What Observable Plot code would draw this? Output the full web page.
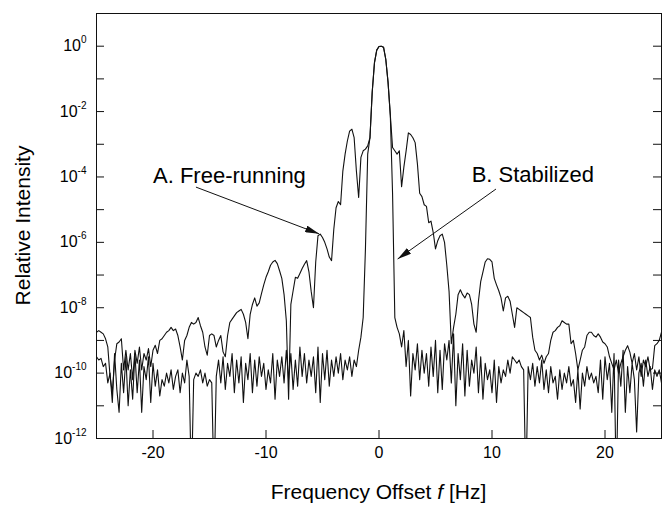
<!DOCTYPE html>
<html><head><meta charset="utf-8">
<script src="https://cdn.jsdelivr.net/npm/d3@7"></script>
<script src="https://cdn.jsdelivr.net/npm/@observablehq/plot@0.6"></script>
<style>html,body{margin:0;padding:0;background:#fff}</style>
</head><body><div id="chart"></div>
<script>
// Frequency sampling grid: -25 Hz .. +25 Hz every 0.2 Hz (251 samples)
const freqStart = -25, freqStep = 0.2, nSamples = 251;

// A. Free-running: log10(relative intensity), one row per Hz (5 samples)
const logA = [
/* -25 */ -8.75,-8.7,-8.75,-8.8,-8.95,
/* -24 */ -9.2,-10.1,-10.6,-9.6,-9.1,
/* -23 */ -9.05,-8.95,-9.9,-9.3,-9.9,
/* -22 */ -9.4,-10.2,-9.3,-9.7,-9.2,
/* -21 */ -9.9,-9.4,-9.6,-9.25,-9.8,
/* -20 */ -9.3,-9.15,-9.4,-9.0,-8.95,
/* -19 */ -8.85,-8.75,-8.7,-8.6,-8.7,
/* -18 */ -8.65,-8.85,-9.2,-9.6,-9.0,
/* -17 */ -8.85,-8.6,-8.45,-8.5,-8.45,
/* -16 */ -8.3,-8.55,-8.75,-9.2,-9.45,
/* -15 */ -8.85,-8.8,-8.85,-9.2,-9.0,
/* -14 */ -8.85,-9.35,-9.5,-8.85,-8.45,
/* -13 */ -8.35,-8.25,-8.15,-8.1,-8.05,
/* -12 */ -8.2,-8.45,-8.95,-8.2,-7.9,
/* -11 */ -7.7,-7.95,-7.85,-7.57,-7.3,
/* -10 */ -7.07,-6.9,-6.7,-6.6,-6.55,
/* -9 */ -6.65,-6.87,-7.1,-7.6,-8.4,
/* -8 */ -10.8,-7.9,-7.48,-7.07,-7.1,
/* -7 */ -6.95,-6.8,-6.67,-6.56,-6.9,
/* -6 */ -7.5,-8.0,-6.6,-5.8,-5.75,
/* -5 */ -5.85,-6.0,-6.2,-6.45,-6.56,
/* -4 */ -5.6,-4.94,-4.75,-4.85,-3.82,
/* -3 */ -3.3,-2.9,-2.6,-2.54,-2.8,
/* -2 */ -3.82,-4.63,-3.4,-3.2,-3.15,
/* -1 */ -3.05,-2.8,-1.4,-0.5,-0.12,
/* 0 */ -0.01,0,-0.03,-0.4,-1.1,
/* 1 */ -2.1,-3.1,-3.2,-3.3,-3.2,
/* 2 */ -4.3,-3.7,-3.2,-2.65,-2.7,
/* 3 */ -2.8,-2.95,-3.6,-4.5,-4.6,
/* 4 */ -4.85,-4.9,-5.4,-5.35,-5.7,
/* 5 */ -6.2,-5.95,-5.8,-5.75,-6.0,
/* 6 */ -6.7,-7.5,-9.1,-8.6,-8.2,
/* 7 */ -7.6,-7.45,-7.6,-7.7,-7.55,
/* 8 */ -7.6,-7.9,-8.5,-8.75,-7.8,
/* 9 */ -7.2,-6.9,-6.6,-6.5,-6.52,
/* 10 */ -6.6,-7.1,-7.3,-7.48,-7.7,
/* 11 */ -8.1,-7.7,-7.65,-7.8,-8.2,
/* 12 */ -8.6,-8.0,-8.05,-8.1,-8.15,
/* 13 */ -8.2,-8.25,-8.3,-8.9,-9.3,
/* 14 */ -9.4,-9.6,-9.45,-9.7,-9.5,
/* 15 */ -9.4,-9.0,-8.75,-8.7,-8.6,
/* 16 */ -8.55,-8.4,-8.45,-8.5,-8.5,
/* 17 */ -9.1,-9.0,-9.4,-9.9,-9.6,
/* 18 */ -9.3,-9.2,-8.85,-8.75,-8.75,
/* 19 */ -8.85,-8.9,-8.8,-8.9,-9.05,
/* 20 */ -9.1,-9.2,-9.5,-9.7,-9.9,
/* 21 */ -9.6,-10.0,-9.7,-9.5,-9.3,
/* 22 */ -9.16,-9.36,-9.7,-9.4,-9.9,
/* 23 */ -9.5,-10.1,-9.6,-9.8,-9.5,
/* 24 */ -9.9,-9.86,-9.16,-9.1,-9.0,
/* 25 */ -8.75
];

// B. Stabilized: log10(relative intensity)
const logB = [
/* -25 */ -9.5,-9.6,-9.55,-9.8,-9.7,
/* -24 */ -10.3,-10.0,-10.9,-9.4,-10.5,
/* -23 */ -11.2,-9.7,-10.6,-9.5,-11.0,
/* -22 */ -9.9,-10.8,-9.4,-10.6,-9.6,
/* -21 */ -11.2,-9.8,-10.2,-9.5,-10.9,
/* -20 */ -9.7,-10.4,-9.9,-10.7,-10.2,
/* -19 */ -10.4,-10.0,-10.3,-9.9,-10.5,
/* -18 */ -10.1,-9.9,-10.6,-10.0,-10.3,
/* -17 */ -9.6,-10.1,-13.5,-10.2,-10.0,
/* -16 */ -10.1,-9.9,-10.3,-10.0,-10.4,
/* -15 */ -10.2,-10.3,-13.5,-10.1,-9.6,
/* -14 */ -10.3,-9.5,-10.5,-9.7,-10.1,
/* -13 */ -9.4,-10.6,-9.6,-10.3,-9.5,
/* -12 */ -10.9,-9.7,-10.2,-9.4,-10.6,
/* -11 */ -9.6,-10.4,-9.5,-10.1,-9.7,
/* -10 */ -10.5,-9.9,-10.3,-9.4,-10.8,
/* -9 */ -9.6,-10.1,-9.5,-10.3,-9.3,
/* -8 */ -10.2,-9.4,-10.5,-9.6,-10.4,
/* -7 */ -9.2,-10.1,-9.4,-10.3,-9.6,
/* -6 */ -10.1,-9.5,-10.6,-9.2,-10.9,
/* -5 */ -9.4,-10.2,-9.3,-10.4,-9.6,
/* -4 */ -10.1,-9.5,-10.0,-9.4,-10.2,
/* -3 */ -9.6,-9.9,-9.5,-10.1,-9.6,
/* -2 */ -9.8,-9.3,-8.9,-8.3,-6.2,
/* -1 */ -3.3,-2.8,-1.4,-0.5,-0.12,
/* 0 */ -0.01,0,-0.03,-0.4,-1.1,
/* 1 */ -2.1,-4.5,-8.3,-8.6,-8.8,
/* 2 */ -9.2,-8.7,-9.8,-9.0,-10.7,
/* 3 */ -9.4,-9.9,-9.1,-10.2,-9.3,
/* 4 */ -10.0,-9.4,-10.4,-9.2,-10.1,
/* 5 */ -9.0,-10.6,-9.3,-10.5,-9.1,
/* 6 */ -9.6,-9.0,-10.3,-8.8,-11.0,
/* 7 */ -9.4,-10.2,-9.1,-10.7,-9.3,
/* 8 */ -10.4,-9.6,-10.0,-9.2,-10.6,
/* 9 */ -9.5,-10.8,-9.7,-10.2,-9.9,
/* 10 */ -10.6,-9.6,-10.9,-9.8,-10.3,
/* 11 */ -9.9,-10.1,-9.6,-10.0,-9.5,
/* 12 */ -9.6,-9.7,-9.6,-9.8,-9.9,
/* 13 */ -13.5,-9.8,-10.2,-9.7,-10.4,
/* 14 */ -9.8,-10.3,-9.6,-10.5,-9.9,
/* 15 */ -10.6,-9.8,-10.3,-10.1,-10.8,
/* 16 */ -9.9,-10.5,-10.0,-10.3,-9.8,
/* 17 */ -10.4,-10.2,-10.9,-9.9,-11.1,
/* 18 */ -10.0,-10.4,-9.8,-10.2,-10.0,
/* 19 */ -10.3,-10.1,-10.6,-9.6,-10.8,
/* 20 */ -9.5,-10.2,-9.7,-11.2,-9.4,
/* 21 */ -13.5,-9.6,-10.4,-9.3,-11.2,
/* 22 */ -9.8,-10.6,-9.7,-10.2,-11.8,
/* 23 */ -10.0,-9.7,-10.4,-9.6,-10.1,
/* 24 */ -9.8,-10.5,-9.9,-10.1,-9.9,
/* 25 */ -10.3
];

// Axis ticks
const xTicks = [-20, -10, 0, 10, 20];
const yLabelExps = [0, -2, -4, -6, -8, -10, -12];
const yTickExps = [1, 0, -1, -2, -3, -4, -5, -6, -7, -8, -9, -10, -11, -12];

// Annotations (data coordinates: frequency, log10 intensity)
const annoText = ["A. Free-running", "B. Stabilized"];
const annoF = [-20.0, 8.2];
const annoLog = [-4.18, -4.15];
const arrowF1 = [-16.2, 10.35];
const arrowLog1 = [-4.31, -4.37];
const arrowF2 = [-5.3, 1.65];
const arrowLog2 = [-5.74, -6.51];

const W = 667, H = 505, mL = 96, mR = 6, mT = 13, mB = 67;
const innerW = W - mL - mR, innerH = H - mT - mB;
const ink = "#111";

const freq = d3.range(nSamples).map(i => +(freqStart + i * freqStep).toFixed(1));
const rows = freq.map((f, i) => ({f, a: Math.pow(10, logA[i]), b: Math.pow(10, logB[i])}));
const annos = annoText.map((t, i) => ({t, x: annoF[i], y: Math.pow(10, annoLog[i])}));
const arrows = arrowF1.map((f, i) => ({x1: f, y1: Math.pow(10, arrowLog1[i]), x2: arrowF2[i], y2: Math.pow(10, arrowLog2[i])}));

const chart = Plot.plot({
  width: W, height: H,
  marginLeft: mL, marginRight: mR, marginTop: mT, marginBottom: mB,
  style: {fontFamily: '"Liberation Sans", Arial, sans-serif', fontSize: "16px", color: "#000", background: "#fff"},
  x: {domain: [-25, 25]},
  y: {type: "log", domain: [1e-12, 10]},
  marks: [
    Plot.line(rows, {x: "f", y: "a", stroke: ink, strokeWidth: 1.1, clip: true}),
    Plot.line(rows, {x: "f", y: "b", stroke: ink, strokeWidth: 1.1, clip: true}),
    Plot.link(arrows, {x1: "x1", y1: "y1", x2: "x2", y2: "y2", stroke: ink, strokeWidth: 1}),
    Plot.text(annos, {x: "x", y: "y", text: "t", textAnchor: "start", lineAnchor: "bottom", fontSize: 22, fill: "#000"}),
    Plot.tickY(yTickExps, {y: d => Math.pow(10, d), insetRight: innerW - 8, stroke: ink}),
    Plot.tickY(yTickExps, {y: d => Math.pow(10, d), insetLeft: innerW - 8, stroke: ink}),
    Plot.tickX(xTicks, {x: d => d, insetTop: innerH - 8, stroke: ink}),
    Plot.axisY({ticks: yLabelExps.map(e => Math.pow(10, e)), tickSize: 0, tickPadding: 10, label: null,
      tickFormat: d => String(Math.round(Math.log10(d)))}),
    Plot.axisX({ticks: xTicks, tickSize: 0, tickPadding: 8, label: null, tickFormat: d => String(d)}),
    Plot.frame({stroke: ink, strokeWidth: 1})
  ]
});

document.getElementById("chart").appendChild(chart);
const svg = d3.select(chart);

// superscript exponents on y tick labels
svg.selectAll('g[aria-label="y-axis tick label"] text').each(function() {
  const t = d3.select(this);
  const e = t.text();
  t.text(null);
  t.append("tspan").text("10");
  t.append("tspan").attr("dy", -8).attr("font-size", "10px").text(e);
});

// filled arrowheads
const defs = svg.insert("defs", ":first-child");
defs.append("marker").attr("id", "ahead")
  .attr("viewBox", "0 0 14 7").attr("refX", 14).attr("refY", 3.5)
  .attr("markerWidth", 14).attr("markerHeight", 7)
  .attr("markerUnits", "userSpaceOnUse").attr("orient", "auto")
  .append("path").attr("d", "M0,0L14,3.5L0,7Z").attr("fill", ink);
svg.selectAll('g[aria-label="link"] path').attr("marker-end", "url(#ahead)");

// axis titles
const xt = svg.append("text").attr("x", mL + innerW / 2).attr("y", 499)
  .attr("text-anchor", "middle").attr("font-size", "21px").attr("fill", "#000");
xt.append("tspan").text("Frequency Offset ");
xt.append("tspan").attr("font-style", "italic").text("f");
xt.append("tspan").text(" [Hz]");

svg.append("text").attr("transform", `translate(29.5,${mT + innerH / 2}) rotate(-90)`)
  .attr("text-anchor", "middle").attr("font-size", "21px").attr("fill", "#000")
  .text("Relative Intensity");
</script>
</body></html>
